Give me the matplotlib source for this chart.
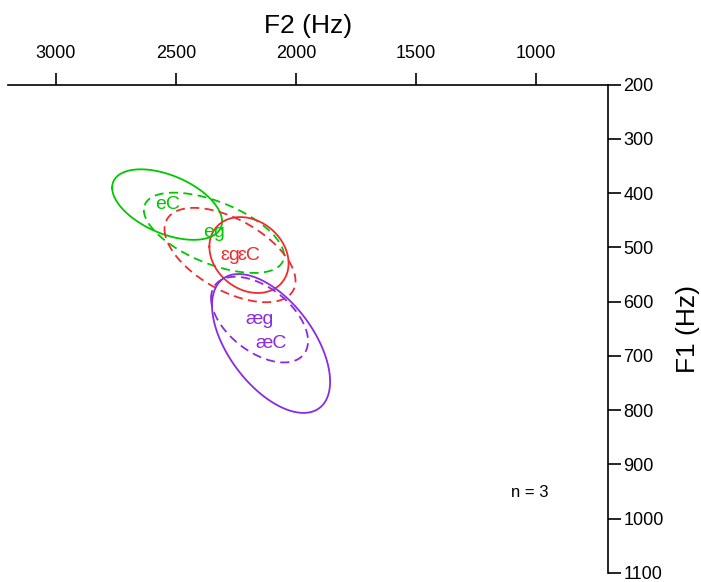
# ── Imports ───────────────────────────────────────────────────────────────────
import numpy as np
import matplotlib.pyplot as plt

plt.rcParams['font.family'] = ['Liberation Sans', 'DejaVu Sans']

# ── Data ──────────────────────────────────────────────────────────────────────
labels   = ['eC', 'eg', 'ɛC', 'ɛg', 'æC', 'æg']
f2_mean  = [2537, 2342, 2196, 2275, 2104, 2152]   # Hz
f1_mean  = [421, 473, 514, 514, 677, 633]         # Hz
f2_rad   = [229, 292, 165, 273, 246, 202]         # half-width of ellipse (Hz)
f1_rad   = [65, 74, 70, 87, 128, 79]              # half-height of ellipse (Hz)
rho      = [-0.48, -0.57, -0.22, -0.55, -0.55, -0.50]
colours  = ['#00c800', '#00c800', '#ee2c2c', '#ee2c2c', '#8a2be2', '#8a2be2']
styles   = ['-', '--', '-', '--', '-', '--']

x_ticks = [3000, 2500, 2000, 1500, 1000]
y_ticks = [200, 300, 400, 500, 600, 700, 800, 900, 1000, 1100]

n_label = 'n = 3'
n_pos   = (1025, 952)

# ── Figure ────────────────────────────────────────────────────────────────────
fig = plt.figure(figsize=(7.01, 5.82), dpi=100)
ax = fig.add_axes([0.0114, 0.0155, 0.856, 0.839])

t = np.linspace(0, 2 * np.pi, 300)
for lab, cx, cy, a, b, r, col, ls in zip(labels, f2_mean, f1_mean, f2_rad,
                                         f1_rad, rho, colours, styles):
    # ellipse from sd's and correlation
    ex = cx + a * np.cos(t)
    ey = cy + b * (r * np.cos(t) + np.sqrt(1 - r ** 2) * np.sin(t))
    line, = ax.plot(ex, ey, color=col, lw=1.3, linestyle=ls)
    if ls == '--':
        line.set_dashes((5, 3))
    ax.text(cx, cy, lab, color=col, fontsize=14, ha='center', va='center')

ax.set_xlim(3200, 700)
ax.set_ylim(1100, 200)

for side in ['left', 'bottom']:
    ax.spines[side].set_visible(False)
for side in ['top', 'right']:
    ax.spines[side].set_linewidth(1.2)

ax.xaxis.tick_top()
ax.yaxis.tick_right()
ax.set_xticks(x_ticks)
ax.set_yticks(y_ticks)
ax.tick_params(axis='x', direction='out', length=9, width=1.2, pad=7,
               labelsize=13)
ax.tick_params(axis='y', direction='out', length=9, width=1.2, pad=2,
               labelsize=13)

ax.xaxis.set_label_position('top')
ax.yaxis.set_label_position('right')
ax.set_xlabel('F2 (Hz)', fontsize=19, labelpad=9)
ax.set_ylabel('F1 (Hz)', fontsize=19, labelpad=9)

ax.text(n_pos[0], n_pos[1], n_label, fontsize=12, ha='center', va='center')

fig.savefig('out.png', dpi=100)
